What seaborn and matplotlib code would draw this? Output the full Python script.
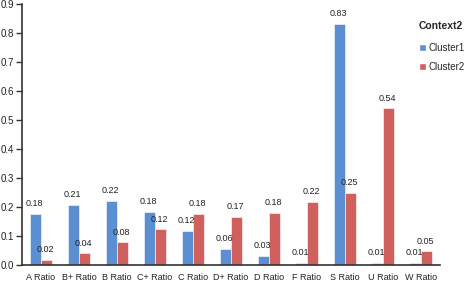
import matplotlib
matplotlib.use("Agg")
import matplotlib.pyplot as plt
import seaborn as sns
import pandas as pd
import numpy as np
from matplotlib.patches import Patch

categories = ["A Ratio", "B+ Ratio", "B Ratio", "C+ Ratio", "C Ratio", "D+ Ratio",
              "D Ratio", "F Ratio", "S Ratio", "U Ratio", "W Ratio"]
cluster1 = [0.177, 0.207, 0.220, 0.184, 0.117, 0.056, 0.030, 0.008, 0.830, 0.007, 0.008]
cluster2 = [0.018, 0.040, 0.078, 0.123, 0.177, 0.166, 0.180, 0.218, 0.250, 0.540, 0.047]
series_names = ["Cluster1", "Cluster2"]
colors = ["#5B8FD1", "#D0605D"]

df = pd.DataFrame({
    "cat": categories * 2,
    "val": cluster1 + cluster2,
    "series": [series_names[0]] * len(categories) + [series_names[1]] * len(categories),
})

sns.set_style("white")
plt.rcParams["font.family"] = ["Liberation Sans", "DejaVu Sans"]

fig = plt.figure(figsize=(4.72, 2.83), dpi=100)
ax = fig.add_axes([22 / 472, 18 / 283, 418 / 472, 261 / 283])

sns.barplot(data=df, x="cat", y="val", hue="series", order=categories,
            hue_order=series_names, palette=colors, width=0.58, ax=ax,
            edgecolor="white", linewidth=0.4, errorbar=None, legend=False, saturation=1)

for cont in ax.containers:
    for bar in cont:
        h = bar.get_height()
        ax.text(bar.get_x() + bar.get_width() / 2 - 0.03, h + 0.02, f"{h:.2f}",
                ha="center", va="bottom", fontsize=6.5, color="#222222")

ax.set_xlim(-0.5, len(categories) - 0.5)
ax.set_ylim(0, 0.9)
ax.set_yticks(np.arange(0, 0.91, 0.1))
ax.set_yticklabels([f"{v:.1f}" for v in np.arange(0, 0.91, 0.1)], fontsize=7, color="#222222")
ax.set_xticks(range(len(categories)))
ax.set_xticklabels(categories, fontsize=6.5, color="#222222")
ax.set_xticks(np.arange(-0.5, len(categories)), minor=True)
ax.tick_params(axis="x", which="major", length=0, pad=6)
ax.tick_params(axis="x", which="minor", length=4, width=1, color="#333333", direction="out")
ax.tick_params(axis="y", which="major", length=4, width=1, color="#333333", direction="out", pad=2, left=True)
ax.set_xlabel("")
ax.set_ylabel("")
for s in ["top", "right"]:
    ax.spines[s].set_visible(False)
for s in ["left", "bottom"]:
    ax.spines[s].set_color("#333333")
    ax.spines[s].set_linewidth(1.2)

handles = [Patch(facecolor=c, edgecolor="white") for c in colors]
leg = fig.legend(handles, series_names, title="Context2", loc="upper left",
                 bbox_to_anchor=(0.875, 0.945), frameon=False, fontsize=7,
                 title_fontsize=7.5, handlelength=0.7, handleheight=0.7,
                 handletextpad=0.3, labelspacing=0.95, alignment="left",
                 borderaxespad=0.2)
leg.get_title().set_fontweight("bold")
leg._legend_box.sep = 8

fig.savefig("out.png", dpi=100)
